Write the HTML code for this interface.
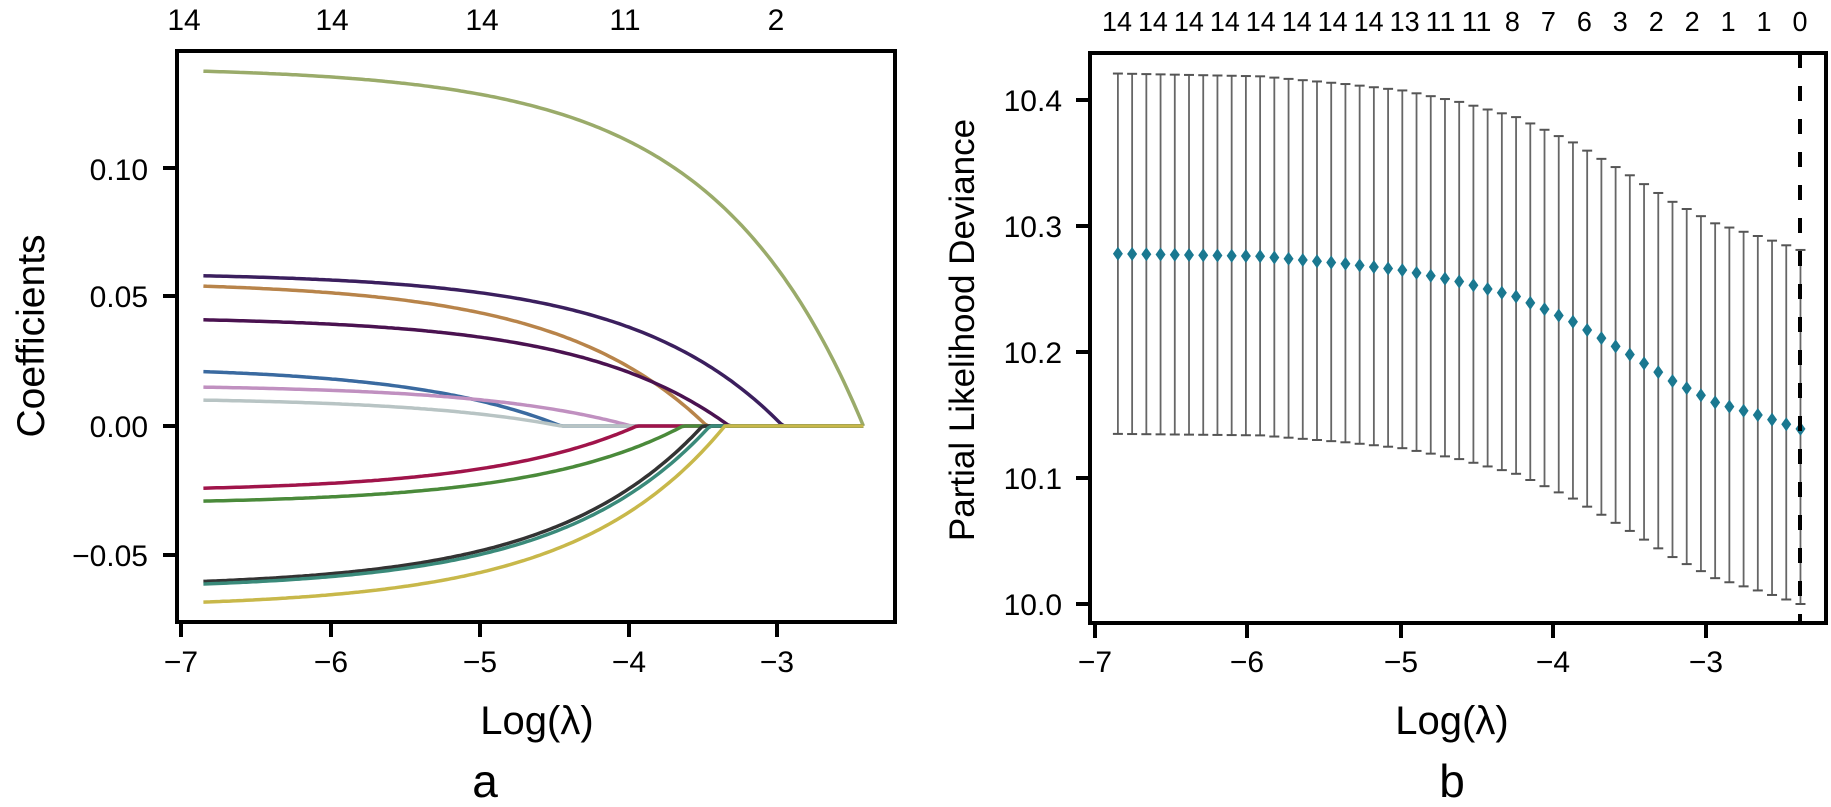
<!DOCTYPE html>
<html><head><meta charset="utf-8"><style>
html,body{margin:0;padding:0;background:#fff;}
svg{display:block;font-family:"Liberation Sans",Arial,sans-serif;}
</style></head><body>
<svg id="s" width="1831" height="807" viewBox="0 0 1831 807" xmlns="http://www.w3.org/2000/svg">
<rect width="1831" height="807" fill="#fff"/>
<g id="a"></g><g id="b"></g>
<rect x="177" y="51" width="718" height="571" fill="none" stroke="#000" stroke-width="4"/>
<g font-size="30" fill="#000" text-anchor="end">
<text x="148" y="180">0.10</text><text x="148" y="307">0.05</text><text x="148" y="437">0.00</text><text x="148" y="566">−0.05</text>
</g>
<g stroke="#000" stroke-width="4">
<line x1="163" y1="168" x2="177" y2="168"/><line x1="163" y1="296" x2="177" y2="296"/><line x1="163" y1="426" x2="177" y2="426"/><line x1="163" y1="555" x2="177" y2="555"/>
<line x1="181" y1="622" x2="181" y2="637"/><line x1="331" y1="622" x2="331" y2="637"/><line x1="480" y1="622" x2="480" y2="637"/><line x1="629" y1="622" x2="629" y2="637"/><line x1="777" y1="622" x2="777" y2="637"/>
</g>
<g font-size="30" text-anchor="middle">
<text x="181" y="672">−7</text><text x="331" y="672">−6</text><text x="480" y="672">−5</text><text x="629" y="672">−4</text><text x="777" y="672">−3</text>
<text x="184" y="30">14</text><text x="332" y="30">14</text><text x="482" y="30">14</text><text x="625" y="30">11</text><text x="776" y="30">2</text>
<text x="537" y="734" font-size="40">Log(λ)</text>
<text x="485" y="797" font-size="46">a</text>
</g>
<text transform="translate(44,336) rotate(-90)" font-size="39" text-anchor="middle">Coefficients</text>
<rect x="1090" y="53" width="736" height="570" fill="none" stroke="#000" stroke-width="4"/>
<line x1="1800" y1="53" x2="1800" y2="623" stroke="#000" stroke-width="4" stroke-dasharray="15 18"/>
<g font-size="30" text-anchor="end">
<text x="1062" y="111">10.4</text><text x="1062" y="237">10.3</text><text x="1062" y="363">10.2</text><text x="1062" y="489">10.1</text><text x="1062" y="615">10.0</text>
</g>
<g stroke="#000" stroke-width="4">
<line x1="1076" y1="100" x2="1090" y2="100"/><line x1="1076" y1="226" x2="1090" y2="226"/><line x1="1076" y1="352" x2="1090" y2="352"/><line x1="1076" y1="478" x2="1090" y2="478"/><line x1="1076" y1="604" x2="1090" y2="604"/>
<line x1="1095" y1="623" x2="1095" y2="638"/><line x1="1247" y1="623" x2="1247" y2="638"/><line x1="1401" y1="623" x2="1401" y2="638"/><line x1="1553" y1="623" x2="1553" y2="638"/><line x1="1706" y1="623" x2="1706" y2="638"/>
</g>
<g font-size="30" text-anchor="middle">
<text x="1095" y="672">−7</text><text x="1247" y="672">−6</text><text x="1401" y="672">−5</text><text x="1553" y="672">−4</text><text x="1706" y="672">−3</text>
<text x="1452" y="734" font-size="40">Log(λ)</text>
<text x="1452" y="797" font-size="46">b</text>
</g>
<g id="top" font-size="28" text-anchor="middle"></g>
<text transform="translate(974,330) rotate(-90)" font-size="35" text-anchor="middle">Partial Likelihood Deviance</text>
</svg>
<script>
var NS="http://www.w3.org/2000/svg";
function el(t,a,p){var e=document.createElementNS(NS,t);for(var k in a)e.setAttribute(k,a[k]);p.appendChild(e);return e;}
var ga=document.getElementById('a');
function XA(t){return 181+(t+7)*149;}
function YA(v){return 426-v/0.05*129.5;}
var t0=-6.85,tend=-2.42;
var L=[[0.137,-2.42,'#9aab6a'],[0.058,-2.96,'#3b1f5e'],[0.054,-3.47,'#b8844a'],[0.041,-3.32,'#4a1250'],
[0.021,-4.45,'#3a6aa0'],[0.015,-3.98,'#c090c0'],[0.010,-4.45,'#b8c4c4'],[-0.024,-3.94,'#a0144a'],
[-0.029,-3.63,'#4a8a3a'],[-0.060,-3.5,'#333333'],[-0.061,-3.45,'#3a8a7a'],[-0.068,-3.35,'#c8b84a']];
L.forEach(function(l){var c0=l[0],tz=l[1],d='';
 for(var i=0;i<=200;i++){var t=t0+(tend-t0)*i/200;var v=0;
  if(t<tz){v=c0*(1-Math.exp(t-tz))/(1-Math.exp(t0-tz));}
  d+=(i?'L':'M')+XA(t).toFixed(1)+','+YA(v).toFixed(1);}
 el('path',{d:d,fill:'none',stroke:l[2],'stroke-width':3.5},ga);});
var gb=document.getElementById('b');
function XB(t){return 1095+(t+7)*152.7;}
function YB(v){return 604-(v-10)*1260;}
var tab=[[0,10.278],[10,10.276],[16,10.27],[20,10.265],[24,10.256],[28,10.244],[32,10.224],[36,10.198],[39,10.177],[42,10.16],[45,10.15],[48,10.139]];
function m(i){for(var k=0;k<tab.length-1;k++){if(i<=tab[k+1][0]){var a=tab[k],b=tab[k+1];return a[1]+(b[1]-a[1])*(i-a[0])/(b[0]-a[0]);}}return tab[tab.length-1][1];}
var N=49;
for(var i=0;i<N;i++){var t=-6.85+(4.47)*i/(N-1);var x=XB(t),mm=m(i);
 var hwU=0.143-0.001*i/48, hwL=0.143-0.004*i/48;
 var yu=YB(mm+hwU),yl=YB(mm-hwL);
 el('line',{x1:x,y1:yu,x2:x,y2:yl,stroke:'#666','stroke-width':1.8},gb);
 el('line',{x1:x-5,y1:yu,x2:x+5,y2:yu,stroke:'#555','stroke-width':2},gb);
 el('line',{x1:x-5,y1:yl,x2:x+5,y2:yl,stroke:'#555','stroke-width':2},gb);}
for(var i=0;i<N;i++){var t=-6.85+(4.47)*i/(N-1);var x=XB(t),y=YB(m(i));
 el('path',{d:'M'+x+','+(y-7)+'L'+(x+5)+','+y+'L'+x+','+(y+7)+'L'+(x-5)+','+y+'Z',fill:'#1a7890'},gb);}
var labs=['14','14','14','14','14','14','14','14','13','11','11','8','7','6','3','2','2','1','1','0'];
var gt=document.getElementById('top');
labs.forEach(function(s,i){var x=1117+i*(1800-1117)/19;var e=el('text',{x:x,y:31,textLength:(s.length>1?30:15),lengthAdjust:'spacingAndGlyphs'},gt);e.textContent=s;});
</script>
</body></html>
